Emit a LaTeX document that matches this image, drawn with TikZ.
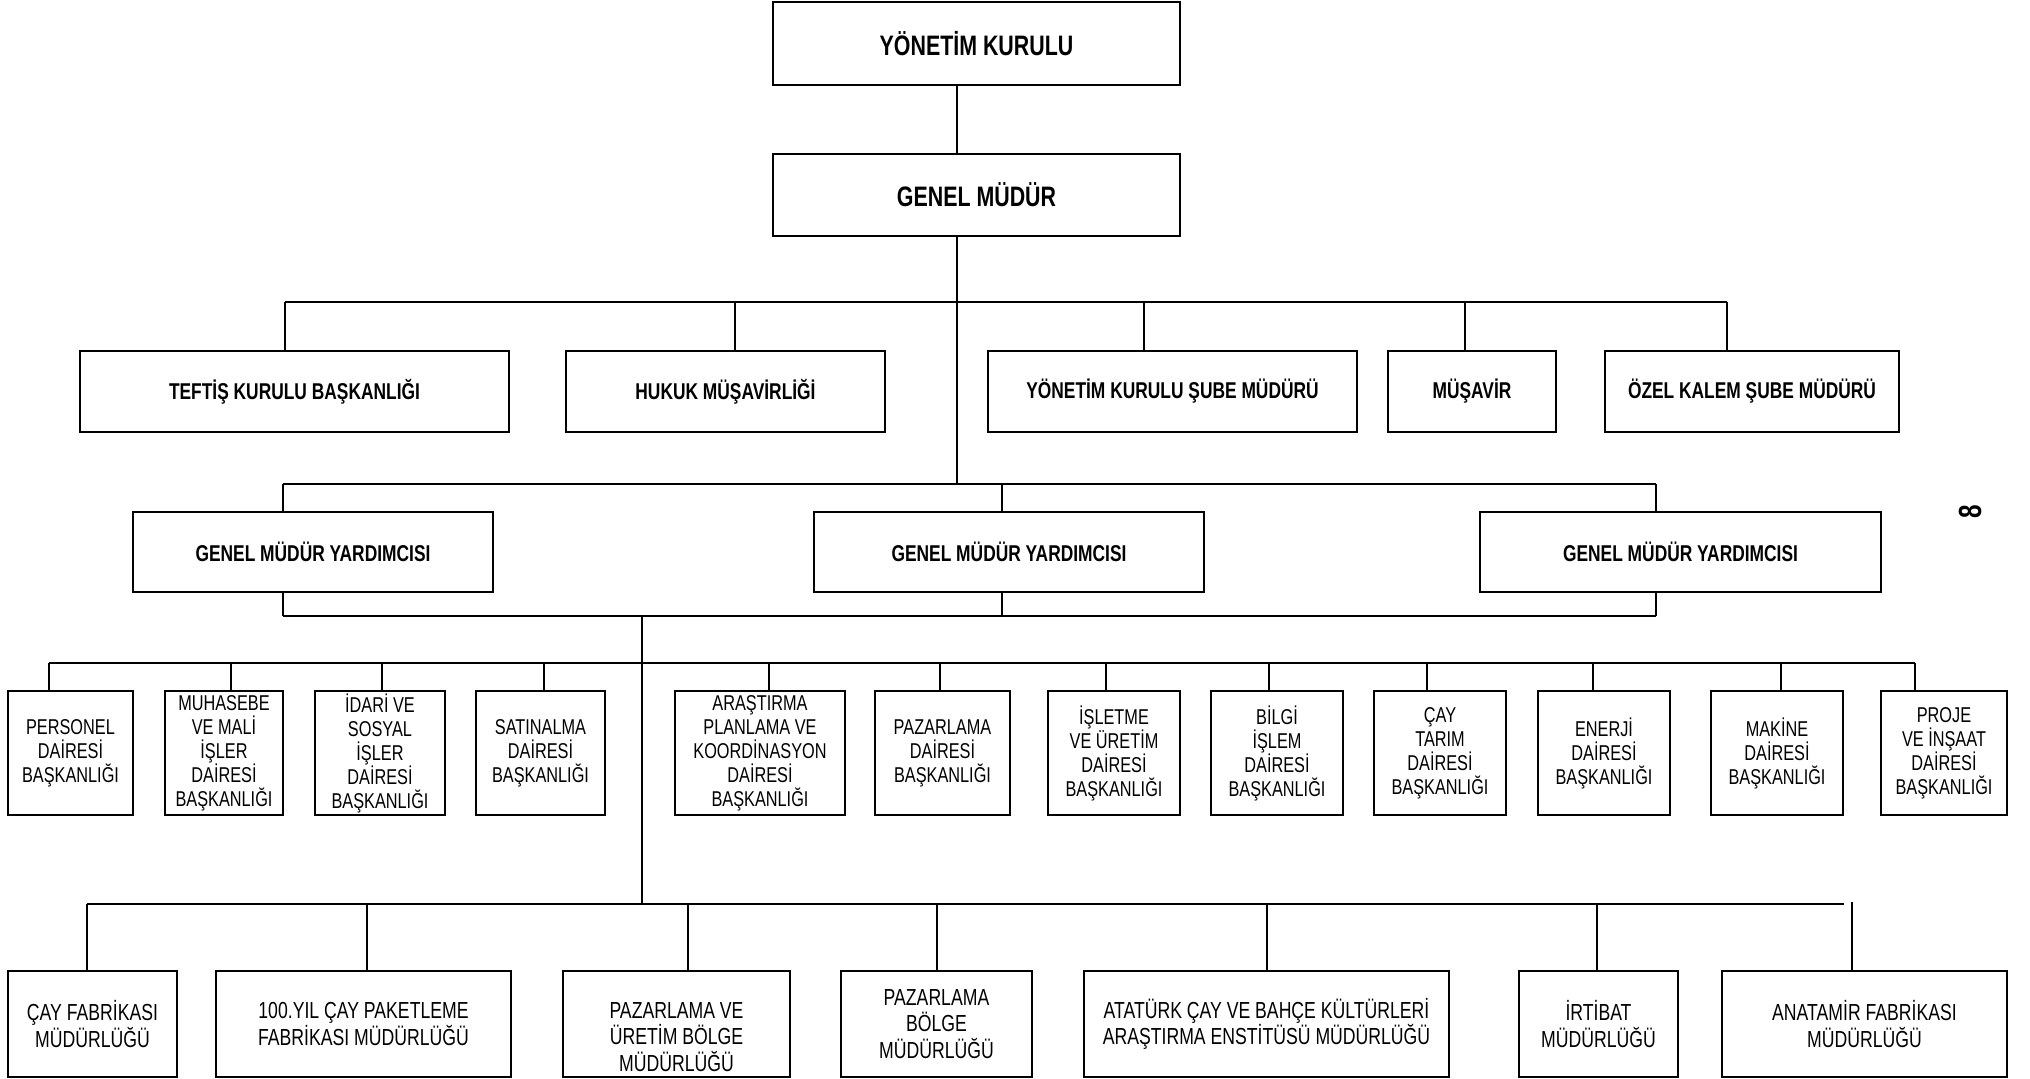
\documentclass[tikz,border=0pt]{standalone}
\usepackage{fontspec}
\setmainfont{Liberation Sans}[FakeStretch=0.76]

\tikzset{
  unit/.style={rectangle, draw, line width=0.6pt, inner sep=0pt, align=center},
  conn/.style={line width=0.5pt},
  toptext/.style={font=\bfseries\fontsize{8}{9.6}\selectfont},
  midtext/.style={font=\bfseries\fontsize{6.5}{7.8}\selectfont},
  daitext/.style={font=\fontsize{6.1}{6.83}\selectfont},
  muetext/.style={font=\fontsize{6.6}{7.6}\selectfont}
}

\begin{document}
\begin{tikzpicture}[x=0.01cm, y=-0.01cm]
  \useasboundingbox (0,0) rectangle (2030,1078);

  % Top boxes
  \node[unit, toptext, minimum width=4.07cm, minimum height=0.83cm] (yk) at (976.5,43.5) {YÖNETİM KURULU};
  \node[unit, toptext, minimum width=4.07cm, minimum height=0.82cm] (gm) at (976.5,195) {GENEL MÜDÜR};

  % Second row
  \node[unit, midtext, minimum width=4.29cm, minimum height=0.81cm] (teftis)  at (294.5,391.5) {TEFTİŞ KURULU BAŞKANLIĞI};
  \node[unit, midtext, minimum width=3.19cm, minimum height=0.81cm] (hukuk)   at (725.5,391.5) {HUKUK MÜŞAVİRLİĞİ};
  \node[unit, midtext, minimum width=3.69cm, minimum height=0.81cm] (yksube)  at (1172.5,391.5) {YÖNETİM KURULU ŞUBE MÜDÜRÜ};
  \node[unit, midtext, minimum width=1.68cm, minimum height=0.81cm] (musavir) at (1472,391.5) {MÜŞAVİR};
  \node[unit, midtext, minimum width=2.94cm, minimum height=0.81cm] (ozel)    at (1752,391.5) {ÖZEL KALEM ŞUBE MÜDÜRÜ};

  % Deputies
  \node[unit, midtext, minimum width=3.60cm, minimum height=0.80cm] (gmya) at (313,552) {GENEL MÜDÜR YARDIMCISI};
  \node[unit, midtext, minimum width=3.90cm, minimum height=0.80cm] (gmyb) at (1009,552) {GENEL MÜDÜR YARDIMCISI};
  \node[unit, midtext, minimum width=4.01cm, minimum height=0.80cm] (gmyc) at (1680.5,552) {GENEL MÜDÜR YARDIMCISI};

  % Departments
  \node[unit, daitext, minimum width=1.25cm, minimum height=1.24cm] (personel)  at (70.5,753)  {PERSONEL\\DAİRESİ\\BAŞKANLIĞI};
  \node[unit, daitext, minimum width=1.18cm, minimum height=1.24cm] (muhasebe)  at (224,753)   {MUHASEBE\\VE MALİ\\İŞLER\\DAİRESİ\\BAŞKANLIĞI};
  \node[unit, daitext, minimum width=1.30cm, minimum height=1.24cm] (idari)     at (380,753)   {İDARİ VE\\SOSYAL\\İŞLER\\DAİRESİ\\BAŞKANLIĞI};
  \node[unit, daitext, minimum width=1.29cm, minimum height=1.24cm] (satinalma) at (540.5,753) {SATINALMA\\DAİRESİ\\BAŞKANLIĞI};
  \node[unit, daitext, minimum width=1.70cm, minimum height=1.24cm] (arastirma) at (760,753)   {ARAŞTIRMA\\PLANLAMA VE\\KOORDİNASYON\\DAİRESİ\\BAŞKANLIĞI};
  \node[unit, daitext, minimum width=1.35cm, minimum height=1.24cm] (pazarlama) at (942.5,753) {PAZARLAMA\\DAİRESİ\\BAŞKANLIĞI};
  \node[unit, daitext, minimum width=1.32cm, minimum height=1.24cm] (isletme)   at (1114,753)  {İŞLETME\\VE ÜRETİM\\DAİRESİ\\BAŞKANLIĞI};
  \node[unit, daitext, minimum width=1.32cm, minimum height=1.24cm] (bilgi)     at (1277,753)  {BİLGİ\\İŞLEM\\DAİRESİ\\BAŞKANLIĞI};
  \node[unit, daitext, minimum width=1.32cm, minimum height=1.24cm] (caytarim)  at (1440,753)  {ÇAY\\TARIM\\DAİRESİ\\BAŞKANLIĞI};
  \node[unit, daitext, minimum width=1.32cm, minimum height=1.24cm] (enerji)    at (1604,753)  {ENERJİ\\DAİRESİ\\BAŞKANLIĞI};
  \node[unit, daitext, minimum width=1.32cm, minimum height=1.24cm] (makine)    at (1777,753)  {MAKİNE\\DAİRESİ\\BAŞKANLIĞI};
  \node[unit, daitext, minimum width=1.26cm, minimum height=1.24cm] (proje)     at (1944,753)  {PROJE\\VE İNŞAAT\\DAİRESİ\\BAŞKANLIĞI};

  % Directorates
  \node[unit, muetext, minimum width=1.69cm, minimum height=1.06cm] (cayfab)    at (92.5,1024)   {ÇAY FABRİKASI\\MÜDÜRLÜĞÜ};
  \node[unit, muetext, minimum width=2.95cm, minimum height=1.06cm] (yuzyil)    at (363.5,1024)  {100.YIL ÇAY PAKETLEME\\FABRİKASI MÜDÜRLÜĞÜ};
  \node[unit, minimum width=2.27cm, minimum height=1.06cm] (pazuretim) at (676.5,1024) {};
  \node[muetext, align=center] (pazuretimtxt) at ([yshift=-0.13cm]pazuretim.center) {PAZARLAMA VE\\ÜRETİM BÖLGE\\MÜDÜRLÜĞÜ};
  \node[unit, muetext, minimum width=1.91cm, minimum height=1.06cm] (pazbolge)  at (936.5,1024)  {PAZARLAMA\\BÖLGE\\MÜDÜRLÜĞÜ};
  \node[unit, muetext, minimum width=3.65cm, minimum height=1.06cm] (ataturk)   at (1266.5,1024) {ATATÜRK ÇAY VE BAHÇE KÜLTÜRLERİ\\ARAŞTIRMA ENSTİTÜSÜ MÜDÜRLÜĞÜ};
  \node[unit, muetext, minimum width=1.59cm, minimum height=1.06cm] (irtibat)   at (1598.5,1024) {İRTİBAT\\MÜDÜRLÜĞÜ};
  \node[unit, muetext, minimum width=2.85cm, minimum height=1.06cm] (anatamir)  at (1864.5,1024) {ANATAMİR FABRİKASI\\MÜDÜRLÜĞÜ};

  % Page number
  \node[font=\bfseries\fontsize{9.1}{11}\selectfont, rotate=90] (page) at (1970,512) {8};

  % Trunk lines
  \coordinate (gmbus) at (957,484);
  \coordinate (depbus) at (642,904);
  \draw[conn] (yk.south -| gmbus) -- (gm.north -| gmbus);
  \draw[conn] (gm.south -| gmbus) -- (gmbus);
  \draw[conn] (642,616) -- (depbus);

  % Horizontal lines
  \draw[conn] (285,302) -- (1727,302);
  \draw[conn] (283,484) -- (1656,484);
  \draw[conn] (283,616) -- (1656,616);
  \draw[conn] (49,663) -- (1915,663);
  \draw[conn] (87,904) -- (1844,904);

  % Drops
  \foreach \x/\n in {285/teftis, 735/hukuk, 1144/yksube, 1465/musavir, 1727/ozel}
    \draw[conn] (\x,302) -- (\x,302 |- \n.north);
  \foreach \x/\n in {283/gmya, 1002/gmyb, 1656/gmyc} {
    \draw[conn] (\x,484) -- (\x,484 |- \n.north);
    \draw[conn] (\x,484 |- \n.south) -- (\x,616);
  }
  \foreach \x/\n in {49/personel, 231/muhasebe, 382/idari, 544/satinalma, 769/arastirma, 940/pazarlama,
                     1106/isletme, 1269/bilgi, 1427/caytarim, 1593/enerji, 1781/makine, 1915/proje}
    \draw[conn] (\x,663) -- (\x,663 |- \n.north);
  \foreach \x/\n in {87/cayfab, 367/yuzyil, 688/pazuretim, 937/pazbolge, 1267/ataturk, 1597/irtibat}
    \draw[conn] (\x,904) -- (\x,904 |- \n.north);
  \draw[conn] (1852,902) -- (1852,902 |- anatamir.north);

\end{tikzpicture}
\end{document}
